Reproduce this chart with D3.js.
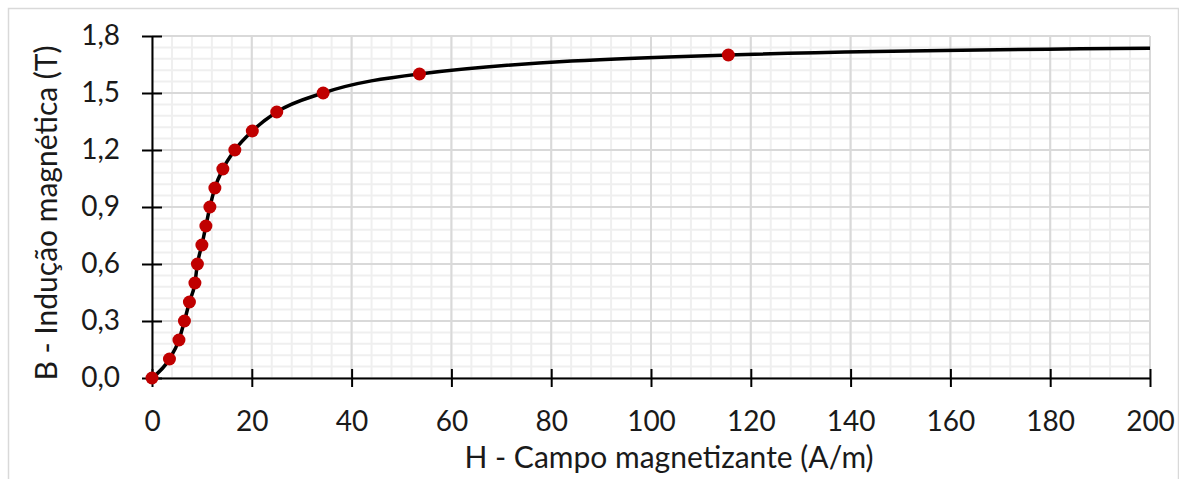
<!DOCTYPE html>
<html>
<head>
<meta charset="utf-8">
<script src="https://cdn.jsdelivr.net/npm/d3@7/dist/d3.min.js"></script>
<style>
  body { margin: 0; background: #fff; }
  text { font-family: Lato, "Open Sans", sans-serif; fill: #1a1a1a; }
</style>
</head>
<body>
<div id="chart"></div>
<script>
// measured points (H in A/m, B in T)
var H = [0, 3.5, 5.4, 6.5, 7.5, 8.6, 9.1, 10.0, 10.8, 11.6, 12.6, 14.2, 16.6, 20.1, 25.0, 34.3, 53.6, 115.5];
var B = [0, 0.1, 0.2, 0.3, 0.4, 0.5, 0.6, 0.7, 0.8, 0.9, 1.0, 1.1, 1.2, 1.3, 1.4, 1.5, 1.6, 1.7];
// the curve keeps going to the edge of the plot without a marker
var tailH = [200];
var tailB = [1.735];

var xTicks = [0, 20, 40, 60, 80, 100, 120, 140, 160, 180, 200];
var yTicks = [0, 0.3, 0.6, 0.9, 1.2, 1.5, 1.8];

var W = 1179, Hgt = 479;
var margin = {top: 36, right: 29, bottom: 101, left: 152};

var svg = d3.select("#chart").append("svg").attr("width", W).attr("height", Hgt);

// chart border
svg.append("rect")
    .attr("x", 8.5).attr("y", 8.5)
    .attr("width", 1170).attr("height", 500)
    .attr("fill", "none").attr("stroke", "#d9d9d9").attr("stroke-width", 1.5);

var width = W - margin.left - margin.right;
var height = Hgt - margin.top - margin.bottom;
var g = svg.append("g").attr("transform", "translate(" + margin.left + "," + margin.top + ")");

var x = d3.scaleLinear().domain([0, 200]).range([0, width]);
var y = d3.scaleLinear().domain([0, 1.8]).range([height, 0]);

// minor grid
var xMinor = d3.range(0, 201, 4);
var yMinor = d3.range(0, 31).map(function (i) { return i * 0.06; });
g.append("g").selectAll("line").data(xMinor).enter().append("line")
    .attr("x1", function (d) { return x(d); }).attr("x2", function (d) { return x(d); })
    .attr("y1", 0).attr("y2", height)
    .attr("stroke", "#efefef").attr("stroke-width", 2);
g.append("g").selectAll("line").data(yMinor).enter().append("line")
    .attr("y1", function (d) { return y(d); }).attr("y2", function (d) { return y(d); })
    .attr("x1", 0).attr("x2", width)
    .attr("stroke", "#efefef").attr("stroke-width", 2);

// major grid
g.append("g").selectAll("line").data(xTicks).enter().append("line")
    .attr("x1", function (d) { return x(d); }).attr("x2", function (d) { return x(d); })
    .attr("y1", 0).attr("y2", height)
    .attr("stroke", "#d9d9d9").attr("stroke-width", 2);
g.append("g").selectAll("line").data(yTicks).enter().append("line")
    .attr("y1", function (d) { return y(d); }).attr("y2", function (d) { return y(d); })
    .attr("x1", 0).attr("x2", width)
    .attr("stroke", "#d9d9d9").attr("stroke-width", 2);

// axes with cross ticks
var fmt = function (d) { return d3.format(".1f")(d).replace(".", ","); };

var xAxis = g.append("g")
    .attr("transform", "translate(0," + height + ")")
    .call(d3.axisBottom(x).tickValues(xTicks).tickSizeInner(9).tickSizeOuter(0).tickPadding(24));
xAxis.select(".domain").attr("stroke", "#000").attr("stroke-width", 2);
xAxis.selectAll(".tick line").attr("stroke", "#000").attr("stroke-width", 2).attr("y1", -9);
xAxis.selectAll(".tick text").attr("font-size", 28).attr("fill", "#1a1a1a")
    .style("font-family", "Lato, 'Open Sans', sans-serif").attr("dy", "0.71em");

var yAxis = g.append("g")
    .call(d3.axisLeft(y).tickValues(yTicks).tickFormat(fmt).tickSizeInner(10).tickSizeOuter(0).tickPadding(22));
yAxis.select(".domain").attr("stroke", "#000").attr("stroke-width", 2);
yAxis.selectAll(".tick line").attr("stroke", "#000").attr("stroke-width", 2).attr("x1", 10);
yAxis.selectAll(".tick text").attr("font-size", 28).attr("fill", "#1a1a1a")
    .style("font-family", "Lato, 'Open Sans', sans-serif");

// curve (smoothed, no overshoot)
var pts = H.map(function (h, i) { return [h, B[i]]; });
var curvePts = pts.concat(tailH.map(function (h, i) { return [h, tailB[i]]; }));
var line = d3.line()
    .x(function (d) { return x(d[0]); })
    .y(function (d) { return y(d[1]); })
    .curve(d3.curveMonotoneX);

g.append("path").datum(curvePts)
    .attr("d", line)
    .attr("fill", "none").attr("stroke", "#000").attr("stroke-width", 3.5);

g.selectAll(".dot").data(pts).enter().append("circle")
    .attr("class", "dot")
    .attr("cx", function (d) { return x(d[0]); })
    .attr("cy", function (d) { return y(d[1]); })
    .attr("r", 6.5)
    .attr("fill", "#c00000");

// axis titles
svg.append("text")
    .attr("x", margin.left + width / 2 + 18).attr("y", 468)
    .attr("text-anchor", "middle").attr("font-size", 30)
    .text("H - Campo magnetizante (A/m)");

svg.append("text")
    .attr("transform", "translate(57," + (margin.top + height / 2 + 6) + ") rotate(-90)")
    .attr("text-anchor", "middle").attr("font-size", 30)
    .text("B - Indução magnética (T)");
</script>
</body>
</html>
